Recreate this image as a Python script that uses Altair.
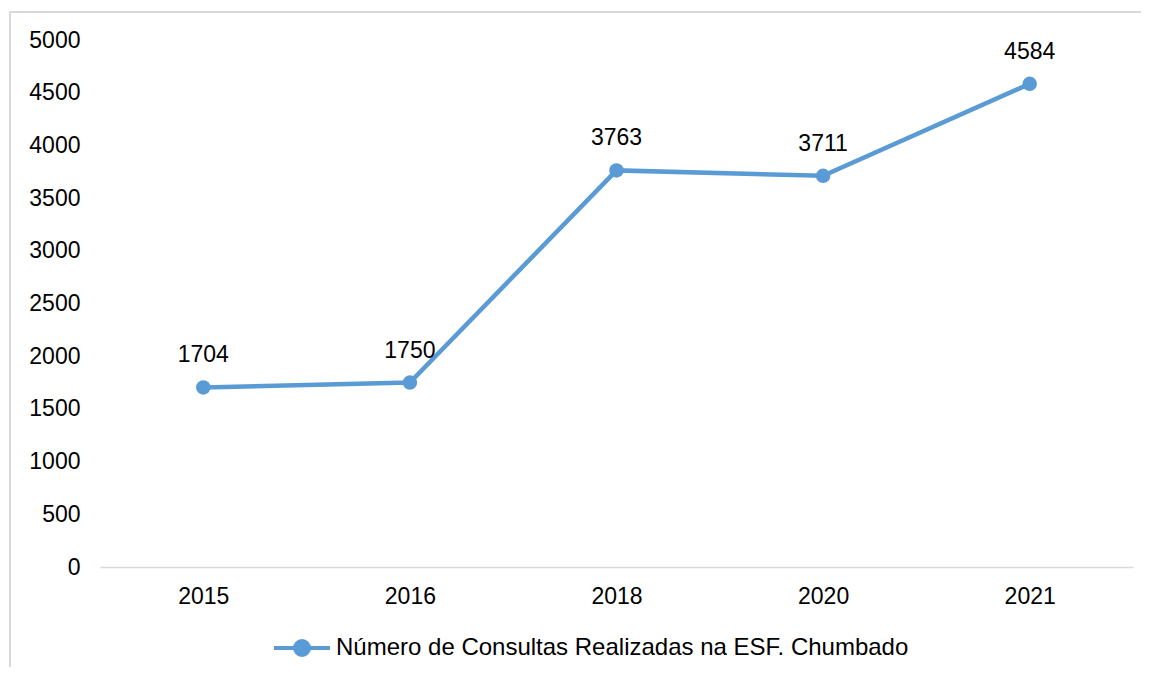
import altair as alt
import pandas as pd

anos = ["2015", "2016", "2018", "2020", "2021"]
consultas = [1704, 1750, 3763, 3711, 4584]
serie = "Número de Consultas Realizadas na ESF. Chumbado"

df = pd.DataFrame({"ano": anos, "valor": consultas, "serie": [serie] * len(anos)})

FONT = "Liberation Sans"
BLUE = "#5b9bd5"

x = alt.X("ano:O", sort=anos, title=None,
          scale=alt.Scale(type="point", padding=0.5),
          axis=alt.Axis(labelAngle=0, tickSize=0, ticks=False, domainColor="#d9d9d9",
                        domainWidth=1.5, labelPadding=18, labelFontSize=23,
                        labelColor="#000000", labelFont=FONT, grid=False))
y = alt.Y("valor:Q", title=None,
          scale=alt.Scale(domain=[0, 5000], nice=False),
          axis=alt.Axis(values=list(range(0, 5001, 500)), format="d", domain=False, ticks=False,
                        grid=False, labelPadding=20, labelFontSize=23,
                        labelColor="#000000", labelFont=FONT))

symbol_path = "M-1,0H1M0.25,0A0.25,0.25,0,1,1,-0.25,0A0.25,0.25,0,1,1,0.25,0Z"

line = alt.Chart(df).mark_line(strokeWidth=4.5, point=alt.OverlayMarkDef(size=210, filled=True, opacity=1)).encode(
    x=x, y=y,
    color=alt.Color("serie:N", scale=alt.Scale(range=[BLUE]),
                    legend=alt.Legend(title=None, orient="none", legendX=172, legendY=578,
                                      symbolType=symbol_path, symbolSize=3136,
                                      symbolStrokeWidth=4, symbolFillColor=BLUE,
                                      symbolStrokeColor=BLUE, labelFontSize=24,
                                      labelFont=FONT, labelColor="#000000",
                                      labelOffset=4, padding=0, labelLimit=1000))
)

labels = alt.Chart(df).mark_text(dy=-32, fontSize=23, font=FONT, color="#000000",
                                 baseline="middle").encode(
    x=alt.X("ano:O", sort=anos), y="valor:Q", text="valor:Q")

frame = alt.Chart(df).mark_rect(fill=None, stroke="#d9d9d9", strokeWidth=1.5, clip=False).encode(
    x=alt.value(-90), x2=alt.value(1200), y=alt.value(-28), y2=alt.value(700))

chart = alt.layer(frame, line, labels).properties(
    width=1033, height=527,
    padding={"left": 92, "top": 32, "right": 8, "bottom": 100},
    autosize=alt.AutoSizeParams(type="none"),
).configure(font=FONT).configure_view(strokeWidth=0, stroke=None)

chart.save("out.html", embed_options={"renderer": "svg", "actions": False})
